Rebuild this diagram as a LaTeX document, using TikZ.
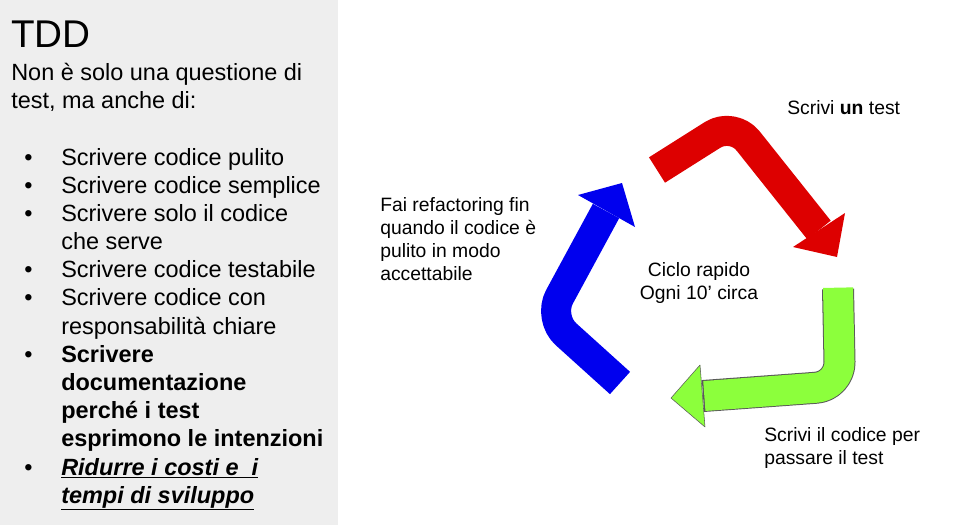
\documentclass[tikz,border=0pt]{standalone}
\usepackage{fontspec}
\setmainfont{Liberation Sans}
\usetikzlibrary{positioning}
\definecolor{panelgray}{HTML}{EEEEEE}
\definecolor{arrred}{HTML}{DD0000}
\definecolor{arrgreen}{HTML}{8CFF3C}
\definecolor{arrblue}{HTML}{0000EE}
\tikzset{
  body/.style={anchor=base west,inner sep=0pt,font=\fontsize{17.6}{21}\selectfont},
  note/.style={anchor=north west,inner sep=0pt,align=left,font=\fontsize{14.5}{17.3}\selectfont},
  shaft/.style={line width=22.5pt,rounded corners=18pt}
}
\begin{document}
\begin{tikzpicture}[x=0.75pt,y=-0.75pt,line join=round]
\useasboundingbox (0,0) rectangle (960,525);
\fill[panelgray] (0,0) rectangle (338,525);
% left panel
\node[anchor=base west,inner sep=0pt,font=\fontsize{29}{30}\selectfont] (title) at (11,47) {TDD};
\node[body] (intro1) at (11,80) {Non è solo una questione di};
\node[body] (intro2) at (11,108) {test, ma anche di:};
\foreach \y/\txt [count=\i] in {165/Scrivere codice pulito,193/Scrivere codice semplice,221/Scrivere solo il codice,277/Scrivere codice testabile,305/Scrivere codice con}
  \node[body] (item\i) at (61,\y) {\txt};
\node[body] (item3b) at (61,249) {che serve};
\node[body] (item5b) at (61,334) {responsabilità chiare};
\foreach \y/\txt [count=\i] in {362/Scrivere,390/documentazione,418/perché i test,446/esprimono le intenzioni}
  \node[body,font=\fontsize{17.6}{21}\selectfont\bfseries] (doc\i) at (61,\y) {\txt};
\node[body,font=\fontsize{17.6}{21}\selectfont\bfseries\itshape] (cost1) at (61,475) {\underline{Ridurre i costi e\ \ i}};
\node[body,font=\fontsize{17.6}{21}\selectfont\bfseries\itshape] (cost2) at (61,503) {\underline{tempi di sviluppo}};
\foreach \y in {165,193,221,277,305,362,475}
  \node[body] (dot\y) at (24,\y) {\textbullet};
% cycle arrows
\coordinate (redtail) at (657,170);
\coordinate (redbend) at (733,122);
\coordinate (redbase) at (819,230);
\draw[arrred,shaft] (redtail) -- (redbend) -- (redbase);
\fill[arrred] (793,247) -- (845,213) -- (837,257) -- cycle;
\coordinate (greentail) at (838,289);
\coordinate (greenbend) at (840,386);
\coordinate (greenbase) at (703,396);
\draw[gray!70!black,line width=24pt,rounded corners=18pt] (greentail) -- (greenbend) -- (greenbase);
\draw[arrgreen,shaft] ([yshift=1pt]greentail) -- (greenbend) -- ([xshift=1pt]greenbase);
\filldraw[fill=arrgreen,draw=gray!70!black] (700,365) -- (705,427) -- (671,398) -- cycle;
\coordinate (bluetail) at (620,383);
\coordinate (bluebend) at (548,318);
\coordinate (bluebase) at (606,211);
\draw[arrblue,shaft] (bluetail) -- (bluebend) -- (bluebase);
\fill[arrblue] (578,195) -- (635,227) -- (622,183) -- cycle;
% labels
\node[note] (writetest) at (787,100) {Scrivi \textbf{un} test};
\node[note] (refactor) at (380,197) {Fai refactoring fin\\quando il codice è\\pulito in modo\\accettabile};
\node[note,align=center,anchor=north] (cycle) at (699,262) {Ciclo rapido\\Ogni 10’ circa};
\node[note] (writecode) at (764,427) {Scrivi il codice per\\passare il test};
\end{tikzpicture}
\end{document}
